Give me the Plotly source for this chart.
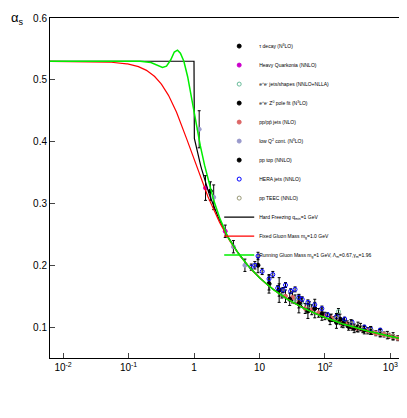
import numpy as np
import plotly.graph_objects as go

# theory parameters (read / fitted from picture)
A_coef = 1.483
L2 = 0.0264
c_fixed = 0.434
alpha_freeze = 0.53

mu_grid = list(np.logspace(-2.2, 3.3, 400))

# running gluon mass curve
green_mu = [0.006, 0.05, 0.15, 0.22, 0.28, 0.33, 0.38, 0.44, 0.5, 0.56, 0.62, 0.7, 0.8, 0.9, 1.0, 1.1, 1.25, 1.45, 1.7, 2.0, 2.5, 2.95]
green_a = [0.53, 0.53, 0.53, 0.528, 0.523, 0.52, 0.522, 0.532, 0.545, 0.548, 0.543, 0.53, 0.505, 0.475, 0.448, 0.423, 0.393, 0.362, 0.333, 0.305, 0.275, 0.256]

# data sets
tau_mu = [1.78]; tau_a = [0.32]; tau_e = [0.015]
hq_mu = [3.0, 1.5]; hq_a = [0.255, 0.325]; hq_e = [0.01, 0.02]
ee_mu = [14, 22, 35, 44, 58, 91, 133, 161, 172, 189, 200, 206]
ee_a = [0.17, 0.155, 0.145, 0.14, 0.135, 0.12, 0.113, 0.125, 0.108, 0.11, 0.107, 0.106]
ee_e = [0.01, 0.008, 0.007, 0.007, 0.006, 0.004, 0.004, 0.005, 0.004, 0.004, 0.004, 0.004]
z_mu = [91.2]; z_a = [0.119]; z_e = [0.003]
pp_mu = [20, 25, 32, 40, 50, 63, 80, 100, 125, 150, 180, 220, 260, 310, 380, 450, 520, 600, 700, 800, 950, 1100, 1300, 1600]
pp_a = [0.16, 0.15, 0.148, 0.14, 0.13, 0.128, 0.123, 0.118, 0.115, 0.111, 0.106, 0.105, 0.1, 0.098, 0.096, 0.094, 0.092, 0.09, 0.089, 0.088, 0.086, 0.084, 0.082, 0.078]
pp_e = [0.01, 0.01, 0.009, 0.009, 0.008, 0.008, 0.007, 0.006, 0.006, 0.006, 0.006, 0.005, 0.005, 0.005, 0.005, 0.005, 0.004, 0.004, 0.004, 0.004, 0.004, 0.004, 0.004, 0.005]
low_mu = [1.2, 2.0, 4.0, 6.0]; low_a = [0.42, 0.31, 0.23, 0.2]; low_e = [0.03, 0.02, 0.01, 0.01]
top_mu = [9.5, 14, 20, 29, 40, 55, 70, 90, 120, 150, 170, 190, 230, 280, 320, 400, 500]
top_a = [0.2, 0.17, 0.16, 0.145, 0.138, 0.126, 0.13, 0.121, 0.112, 0.108, 0.113, 0.106, 0.101, 0.098, 0.1, 0.095, 0.094]
top_e = [0.012, 0.015, 0.02, 0.01, 0.015, 0.012, 0.015, 0.01, 0.008, 0.01, 0.008, 0.007, 0.006, 0.007, 0.008, 0.006, 0.006]
hera_mu = [7.5, 8.5, 9.5, 11, 14, 16, 19, 23, 25, 30, 35, 40, 45, 55, 70, 90, 110, 150, 200, 260, 400, 500, 700]
hera_a = [0.197, 0.2, 0.215, 0.19, 0.178, 0.185, 0.163, 0.16, 0.168, 0.158, 0.161, 0.148, 0.145, 0.14, 0.136, 0.13, 0.12, 0.117, 0.113, 0.108, 0.1, 0.097, 0.095]
hera_e = [0.005, 0.006, 0.006, 0.005, 0.005, 0.005, 0.004, 0.004, 0.004, 0.004, 0.004, 0.004, 0.004, 0.004, 0.004, 0.004, 0.003, 0.003, 0.003, 0.003, 0.003, 0.003, 0.003]
teec_mu = [150, 250, 350, 500, 700, 900, 1100]
teec_a = [0.114, 0.105, 0.1, 0.095, 0.09, 0.087, 0.085]
teec_e = [0.008, 0.007, 0.006, 0.006, 0.006, 0.006, 0.006]

mu = np.array(mu_grid)
red = A_coef / np.log((mu**2 + c_fixed) / L2)
black = np.where(mu < 1.0, alpha_freeze, A_coef / np.log(np.maximum(mu, 1.0)**2 / L2))
mu_b = np.concatenate([mu[mu < 1.0], [1.0], mu[mu >= 1.0]])
black_b = np.concatenate([black[mu < 1.0], [alpha_freeze], black[mu >= 1.0]])
tail = mu[mu > 3.0]
g_mu = np.concatenate([green_mu, tail])
g_a = np.concatenate([green_a, A_coef / np.log((tail**2 + 0.25) / L2)])

fig = go.Figure()
sets = [
    ("τ decay (N<sup>3</sup>LO)", "black", "circle", tau_mu, tau_a, tau_e),
    ("Heavy Quarkonia (NNLO)", "#cc00cc", "circle", hq_mu, hq_a, hq_e),
    ("e<sup>+</sup>e<sup>-</sup> jets/shapes (NNLO+NLLA)", "#66bb99", "circle-open", ee_mu, ee_a, ee_e),
    ("e<sup>+</sup>e<sup>-</sup> Z<sup>0</sup> pole fit (N<sup>3</sup>LO)", "black", "circle", z_mu, z_a, z_e),
    ("pp/pp̄ jets (NLO)", "#dd6666", "circle", pp_mu, pp_a, pp_e),
    ("low Q<sup>2</sup> cont. (N<sup>3</sup>LO)", "#9999cc", "circle", low_mu, low_a, low_e),
    ("pp top (NNLO)", "black", "circle", top_mu, top_a, top_e),
    ("HERA jets (NNLO)", "blue", "circle-open", hera_mu, hera_a, hera_e),
    ("pp TEEC (NNLO)", "#999977", "circle-open", teec_mu, teec_a, teec_e),
]
for name, col, sym, x, y, e in sets:
    fig.add_trace(go.Scatter(x=x, y=y, mode="markers", name=name,
        marker=dict(color=col, symbol=sym, size=4, line=dict(width=1, color=col)),
        error_y=dict(type="data", array=e, color="black", thickness=1, width=1.5)))
fig.add_trace(go.Scatter(x=mu_b, y=black_b, mode="lines", name="Hard Freezing q<sub>min</sub>=1 GeV",
                         line=dict(color="black", width=1.2)))
fig.add_trace(go.Scatter(x=mu, y=red, mode="lines", name="Fixed Gluon Mass m<sub>g</sub>=1.0 GeV",
                         line=dict(color="red", width=1.2)))
fig.add_trace(go.Scatter(x=g_mu, y=g_a, mode="lines",
                         name="Running Gluon Mass m<sub>g</sub>=1 GeV, Λ<sub>m</sub>=0.67,γ<sub>m</sub>=1.96",
                         line=dict(color="#00ee00", width=1.5)))

fig.update_layout(
    width=407, height=418, margin=dict(l=42, r=4, t=8, b=68),
    plot_bgcolor="white", paper_bgcolor="white",
    font=dict(family="Liberation Sans, Arial", size=10, color="black"),
    legend=dict(x=0.47, y=0.96, xanchor="left", yanchor="top", font=dict(size=5),
                bgcolor="rgba(0,0,0,0)", tracegroupgap=0, itemwidth=30),
    showlegend=True,
)
fig.update_xaxes(type="log", range=[-2.2, 3.3], showline=True, mirror=True, linecolor="black",
                 ticks="inside", showgrid=False, zeroline=False,
                 tickvals=[0.01, 0.1, 1, 10, 100, 1000],
                 ticktext=["10<sup>-2</sup>", "10<sup>-1</sup>", "1", "10", "10<sup>2</sup>", "10<sup>3</sup>"])
fig.update_yaxes(range=[0.05, 0.6], showline=True, mirror=True, linecolor="black",
                 ticks="inside", showgrid=False, zeroline=False, dtick=0.1, tickformat=".1f")
fig.add_annotation(text="α<sub>s</sub>", xref="paper", yref="paper", x=-0.09, y=1.0, showarrow=False,
                   font=dict(size=13), xanchor="center", yanchor="middle")
fig.add_annotation(text="μ", xref="paper", yref="paper", x=1.0, y=-0.08, showarrow=False,
                   font=dict(size=13), xanchor="right", yanchor="top")
fig.write_html("out.html")
